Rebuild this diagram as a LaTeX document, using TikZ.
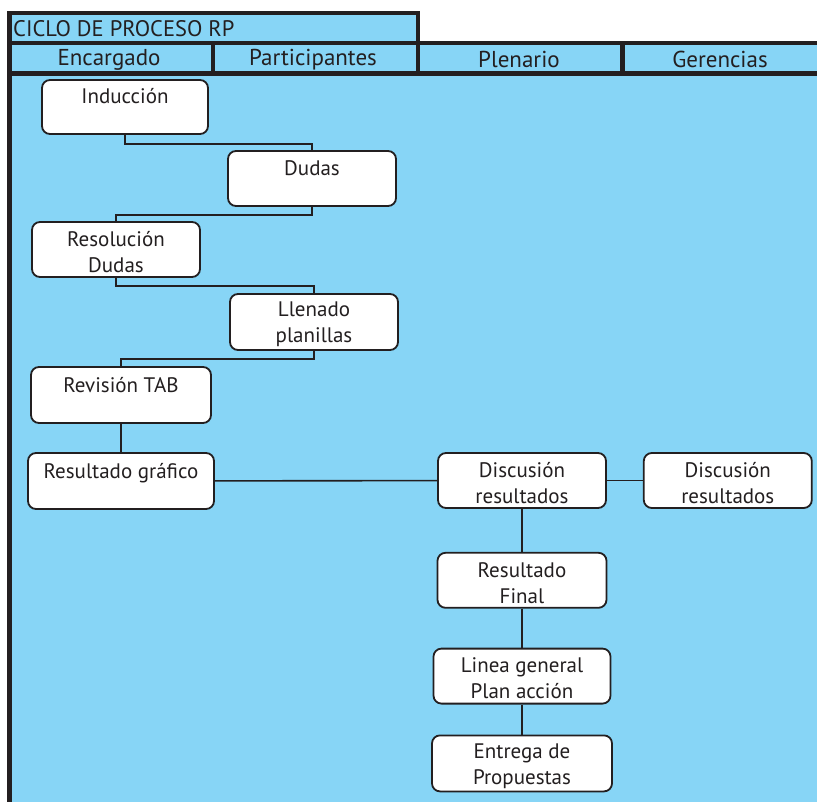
\documentclass[tikz,border=0pt]{standalone}
\usepackage{fontspec}
\setmainfont{PT Sans}
\usetikzlibrary{positioning}
\definecolor{fondo}{HTML}{87D5F6}
\definecolor{tinta}{HTML}{231F20}
\newcommand{\alto}{\rule{0pt}{20pt}}

\begin{document}
\begin{tikzpicture}[x=1pt, y=-1pt,
    paso/.style={rectangle, rounded corners=8pt, draw=tinta, line width=1.8pt,
      fill=white, minimum width=168pt, minimum height=55pt, inner sep=0pt,
      align=center, text=tinta, font=\fontsize{21}{26}\selectfont},
    marco/.style={draw=tinta, line width=4.5pt},
    cabeza/.style={text=tinta, font=\fontsize{23}{26}\selectfont},
    enlace/.style={draw=tinta, line width=1.6pt}]

    \useasboundingbox (0,0) rectangle (817,802);

    % fondo y encabezado
    \fill[fondo] (9.5,13) rectangle (418,43);
    \fill[fondo] (9.5,43) rectangle (817,802);
    \draw[marco] (9.5,13) rectangle (418,43);
    \draw[marco] (9.5,43) -- (817,43);
    \draw[marco] (9.5,73.5) -- (817,73.5);
    \draw[marco] (9.5,13) -- (9.5,802);
    \foreach \x in {213,418,622.5}
      \draw[marco] (\x,43) -- (\x,73.5);

    \node[cabeza, anchor=west, inner xsep=1pt, font=\fontsize{22.5}{26}\selectfont] (titulo) at (12,29) {CICLO DE PROCESO RP};
    \node[cabeza] (hEnc) at (109,59.5) {Encargado};
    \node[cabeza] (hPar) at (313,59.5) {Participantes};
    \node[cabeza] (hPle) at (519,59.5) {Plenario};
    \node[cabeza] (hGer) at (720,59.5) {Gerencias};

    % pasos
    \node[paso, minimum width=166pt, minimum height=54pt] (ind) at (125,107) {\alto Inducción\\~};
    \node[paso] (dud) at (312,178.5) {\alto Dudas\\~};
    \node[paso] (res) at (116,249.5) {\alto Resolución\\Dudas};
    \node[paso, minimum height=56pt] (lle) at (314,322) {\alto Llenado\\planillas};
    \node[paso, minimum width=180pt, minimum height=56pt] (rev) at (121,395) {\alto Revisión TAB\\~};
    \node[paso, minimum width=186pt, minimum height=56pt] (rgr) at (121,481) {\alto Resultado gráfico\\~};
    \node[paso] (dis) at (522,480.5) {\alto Discusión\\resultados};
    \node[paso, right=36pt of dis] (disg) {\alto Discusión\\resultados};
    \node[paso, minimum width=169pt, below=43pt of dis] (rfin) {\alto Resultado\\Final};
    \node[paso, minimum width=177pt, below=39pt of rfin] (lgen) {\alto Linea general\\Plan acción};
    \node[paso, minimum width=180pt, minimum height=56pt, below=30pt of lgen] (ent) {\alto Entrega de\\Propuestas};

    % conexiones
    \draw[enlace] (ind.south) -- ++(0,9) -| (dud.north);
    \draw[enlace] (dud.south) -- ++(0,8) -| (res.north);
    \draw[enlace] (res.south) -- ++(0,8) -| (lle.north);
    \draw[enlace] (lle.south) -- ++(0,8) -| (rev.north);
    \draw[enlace] (rev) -- (rgr);
    \draw[enlace] (rgr) -- (dis);
    \draw[enlace] (dis) -- (disg);
    \draw[enlace] (dis) -- (rfin);
    \draw[enlace] (rfin) -- (lgen);
    \draw[enlace] (lgen) -- (ent);
  \end{tikzpicture}
\end{document}
